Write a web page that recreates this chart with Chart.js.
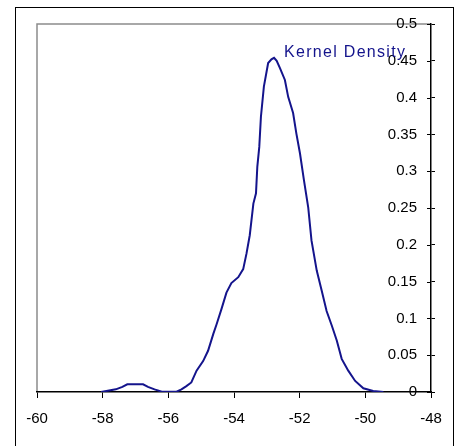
<!DOCTYPE html>
<html>
<head>
<meta charset="utf-8">
<script src="https://cdn.jsdelivr.net/npm/chart.js@4/dist/chart.umd.min.js"></script>
<style>
  html, body { margin: 0; padding: 0; background: #fff; }
  #wrap { width: 457px; height: 446px; }
</style>
</head>
<body>
<div id="wrap"><canvas id="kdeChart" width="457" height="446"></canvas></div>
<script>
const seriesName = "Kernel Density";
const xTicks = [-60, -58, -56, -54, -52, -50, -48];
const densX = [-58.05, -57.6, -57.4, -57.25, -57.0, -56.77, -56.62, -56.42, -56.2, -55.95, -55.75,
    -55.6, -55.45, -55.3, -55.14, -54.94, -54.79, -54.63, -54.53, -54.38, -54.23, -54.08, -53.87,
    -53.72, -53.62, -53.52, -53.41, -53.33, -53.29, -53.23, -53.18, -53.09, -52.96, -52.86, -52.78,
    -52.7, -52.6, -52.45, -52.35, -52.2, -52.1, -51.99, -51.87, -51.74, -51.64, -51.48, -51.33,
    -51.18, -51.02, -50.87, -50.72, -50.52, -50.31, -50.06, -49.76, -49.45];
const densY = [0, 0.0036, 0.007, 0.0105, 0.0105, 0.0105, 0.007, 0.0036, 0.0005, 0.0003, 0.0005,
    0.0036, 0.008, 0.013, 0.029, 0.042, 0.056, 0.079, 0.092, 0.113, 0.135, 0.148, 0.156,
    0.167, 0.188, 0.213, 0.256, 0.27, 0.306, 0.333, 0.374, 0.415, 0.447, 0.452, 0.454,
    0.45, 0.44, 0.424, 0.401, 0.379, 0.351, 0.324, 0.288, 0.251, 0.206, 0.165, 0.138,
    0.11, 0.09, 0.07, 0.045, 0.029, 0.015, 0.005, 0.0014, 0];

const lineColor = "#14148c";

// frame, gray top/left border, inward y ticks, series label
const decor = {
    id: "decor",
    beforeDraw(chart) {
        const { ctx, chartArea: a } = chart;
        ctx.save();
        ctx.strokeStyle = "#000";
        ctx.lineWidth = 1;
        ctx.strokeRect(15.5, 7.5, 438, 460);
        ctx.strokeStyle = "#8c8c8c";
        ctx.lineWidth = 1.5;
        ctx.beginPath();
        ctx.moveTo(a.left, a.bottom);
        ctx.lineTo(a.left, a.top);
        ctx.lineTo(a.right, a.top);
        ctx.stroke();
        ctx.restore();
    },
    afterDraw(chart) {
        const { ctx, chartArea: a, scales } = chart;
        ctx.save();
        ctx.strokeStyle = "#000";
        ctx.lineWidth = 1;
        scales.y.ticks.forEach(t => {
            const py = Math.round(scales.y.getPixelForValue(t.value)) + 0.5;
            ctx.beginPath();
            ctx.moveTo(a.right - 4, py);
            ctx.lineTo(a.right, py);
            ctx.stroke();
        });
        ctx.fillStyle = lineColor;
        ctx.font = "16px 'Liberation Sans', Arial, sans-serif";
        ctx.letterSpacing = "1.3px";
        ctx.textBaseline = "alphabetic";
        ctx.fillText(seriesName, 284, 57);
        ctx.restore();
    }
};

new Chart(document.getElementById("kdeChart"), {
    type: "line",
    data: {
        datasets: [{
            label: seriesName,
            data: densX.map((x, i) => ({ x, y: densY[i] })),
            borderColor: lineColor,
            borderWidth: 2,
            pointRadius: 0,
            tension: 0,
            fill: false
        }]
    },
    options: {
        animation: false,
        responsive: false,
        layout: { padding: { left: 37, right: 22, top: 24, bottom: 6 } },
        plugins: {
            legend: { display: false },
            tooltip: { enabled: false }
        },
        scales: {
            x: {
                type: "linear",
                min: -60,
                max: -48,
                afterBuildTicks: s => { s.ticks = xTicks.map(v => ({ value: v })); },
                grid: { drawOnChartArea: false, tickLength: 6, color: "#000" },
                border: { color: "#000", width: 1.5 },
                ticks: {
                    color: "#000",
                    padding: 12,
                    maxRotation: 0,
                    font: { family: "'Liberation Sans', Arial, sans-serif", size: 15 }
                }
            },
            y: {
                type: "linear",
                position: "right",
                min: 0,
                max: 0.5,
                afterFit: s => { s.width = 4; },
                ticks: {
                    stepSize: 0.05,
                    mirror: true,
                    padding: -14,
                    color: "#000",
                    font: { family: "'Liberation Sans', Arial, sans-serif", size: 15 },
                    callback: v => String(Math.round(v * 100) / 100)
                },
                grid: { drawOnChartArea: false, tickLength: 4, color: "#000" },
                border: { color: "#000", width: 1.5 }
            }
        }
    },
    plugins: [decor]
});
</script>
</body>
</html>
